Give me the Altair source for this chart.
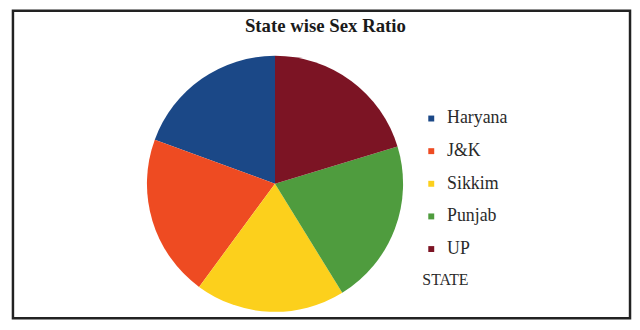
import altair as alt
import pandas as pd

states = ["Haryana", "J&K", "Sikkim", "Punjab", "UP"]
shares = [19.4, 20.5, 18.9, 20.9, 20.3]
colors = ["#1b4887", "#ee4b22", "#fcd01c", "#4f9c3e", "#7c1424"]
chart_title = "State wise Sex Ratio"
legend_title = "STATE"

df = pd.DataFrame({"state": states, "share": shares, "idx": list(range(len(states)))})

pie = alt.Chart(df).mark_arc(radius=129.5, stroke=None).encode(
    theta=alt.Theta("share:Q", stack=True),
    order=alt.Order("idx:Q", sort="descending"),
    color=alt.Color(
        "state:N",
        sort=states,
        scale=alt.Scale(domain=states, range=colors),
        legend=alt.Legend(
            title=legend_title,
            orient="none",
            legendX=414,
            legendY=100,
            padding=0,
            symbolType="square",
            symbolSize=36,
            symbolStrokeWidth=0,
            labelOffset=7,
            rowPadding=15,
            titleOrient="bottom",
            titleAnchor="start",
            titlePadding=14,
        ),
    ),
    x=alt.value(265),
    y=alt.value(175),
)

title = alt.Chart(pd.DataFrame({"t": [chart_title]})).mark_text(
    font="Liberation Serif", fontSize=19, fontWeight="bold", color="#1a1a1a",
    align="center", baseline="alphabetic",
).encode(text="t:N", x=alt.value(316), y=alt.value(22))

chart = alt.layer(pie, title).properties(
    width=624,
    height=311,
    autosize=alt.AutoSizeParams(type="none"),
    padding={"left": 5, "top": 1, "right": 2, "bottom": 2},
).configure_view(stroke="#222222", strokeWidth=2.5).configure_legend(
    labelFont="Liberation Serif",
    labelFontSize=18,
    labelColor="#2a2a2a",
    titleFont="Liberation Serif",
    titleFontSize=16,
    titleFontWeight="normal",
    titleColor="#2a2a2a",
)

chart.save("out.html", embed_options={"renderer": "svg", "actions": False})
